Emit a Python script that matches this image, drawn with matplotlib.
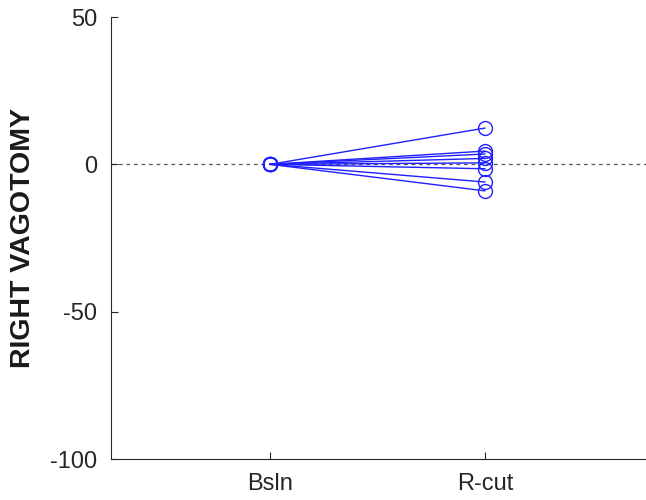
import matplotlib
matplotlib.use("Agg")
import matplotlib.pyplot as plt

categories = ["Bsln", "R-cut"]
baseline = [0, 0, 0, 0, 0, 0, 0, 0]
rcut = [12.3, 4.5, 3.5, 2.0, 0.5, -1.5, -6.0, -9.0]
yticks = [-100, -50, 0, 50]

plt.rcParams['font.family'] = ['Liberation Sans', 'DejaVu Sans']
plt.rcParams['axes.unicode_minus'] = False
fig = plt.figure(figsize=(6.46, 5.0), dpi=100)
ax = fig.add_axes([0.172, 0.082, 0.828, 0.884])

xpos = [1, 2]
ax.axhline(0, color='0.35', linestyle=(0, (3, 3)), linewidth=0.9, zorder=1)
for b, r in zip(baseline, rcut):
    ax.plot(xpos, [b, r], color='#2020ff', linewidth=1.0, marker='o',
            markersize=10, markerfacecolor='none', markeredgecolor='#2020ff',
            markeredgewidth=1.0, zorder=2)

ax.set_xlim(0.26, 2.75)
ax.set_ylim(-100, 50)
ax.set_xticks(xpos)
ax.set_xticklabels(categories)
ax.set_yticks(yticks)
ax.set_ylabel("RIGHT VAGOTOMY", fontsize=20.5, fontweight='bold', color='0.1', labelpad=10)
ax.tick_params(direction='in', length=5, width=0.8, labelsize=17, colors='0.15', pad=10)
for s in ['top', 'right']:
    ax.spines[s].set_visible(False)
for s in ['left', 'bottom']:
    ax.spines[s].set_color('0.15')
    ax.spines[s].set_linewidth(0.8)

fig.savefig("out.png", dpi=100)
